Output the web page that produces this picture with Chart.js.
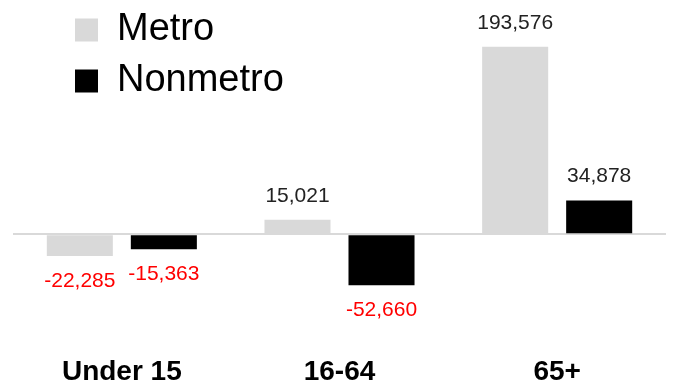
<!DOCTYPE html>
<html>
<head>
<meta charset="utf-8">
<script src="https://cdn.jsdelivr.net/npm/chart.js@4.4.1/dist/chart.umd.min.js"></script>
<style>
  html, body { margin: 0; padding: 0; background: #fff; }
  #wrap { width: 673px; height: 384px; }
</style>
</head>
<body>
<div id="wrap"><canvas id="age_chart"></canvas></div>
<script>
var categories = ["Under 15", "16-64", "65+"];
var metroValues = [-22285, 15021, 193576];
var nonmetroValues = [-15363, -52660, 34878];
var seriesNames = ["Metro", "Nonmetro"];

// value labels above / below each bar
var barLabels = {
  id: "barLabels",
  afterDatasetsDraw: function (chart) {
    var ctx = chart.ctx;
    ctx.save();
    ctx.font = "21px 'Liberation Sans', Arial, sans-serif";
    ctx.textAlign = "center";
    ctx.textBaseline = "middle";
    chart.data.datasets.forEach(function (ds, i) {
      chart.getDatasetMeta(i).data.forEach(function (bar, j) {
        var v = ds.data[j];
        var txt = v.toLocaleString("en-US");
        if (v >= 0) {
          ctx.fillStyle = "#222222";
          ctx.fillText(txt, bar.x, bar.y - 24);
        } else {
          ctx.fillStyle = "#ff0000";
          ctx.fillText(txt, bar.x, bar.y + 25);
        }
      });
    });
    ctx.restore();
  },
};

// move the legend (drawn inside the chart area) to the top-left spot
var legendSpot = {
  id: "legendSpot",
  afterLayout: function (chart) {
    var lg = chart.legend;
    if (!lg) return;
    var pad = lg.options.labels.padding;
    lg.left = 75 - pad;
    lg.top = 11 - pad;
  },
};

var ctx = document.getElementById("age_chart").getContext("2d");
var age_chart = new Chart(ctx, {
  type: "bar",
  data: {
    labels: categories,
    datasets: [
      {
        label: seriesNames[0],
        data: metroValues,
        backgroundColor: "#d9d9d9",
        borderWidth: 0,
      },
      {
        label: seriesNames[1],
        data: nonmetroValues,
        backgroundColor: "#000000",
        borderWidth: 0,
      },
    ],
  },
  options: {
    responsive: true,
    maintainAspectRatio: false,
    animation: false,
    categoryPercentage: 0.772,
    barPercentage: 0.786,
    layout: {
      padding: { left: 13, right: 7, top: 0, bottom: -6 },
    },
    scales: {
      x: {
        grid: { display: false, drawTicks: false },
        border: { display: false },
        ticks: {
          color: "#000000",
          padding: 4,
          font: {
            family: "'Liberation Sans', Arial, sans-serif",
            size: 28,
            weight: "bold",
            lineHeight: 1,
          },
        },
      },
      y: {
        min: -123550,
        max: 241975,
        border: { display: false },
        ticks: { display: false },
        grid: {
          drawTicks: false,
          lineWidth: 2,
          color: function (c) {
            return c.tick && c.tick.value === 0 ? "#d9d9d9" : "rgba(0,0,0,0)";
          },
        },
        afterBuildTicks: function (scale) {
          scale.ticks = [{ value: 0 }];
        },
      },
    },
    plugins: {
      legend: {
        position: "chartArea",
        align: "start",
        labels: {
          boxWidth: 23,
          boxHeight: 23,
          padding: 13,
          color: "#000000",
          font: {
            family: "'Liberation Sans', Arial, sans-serif",
            size: 38,
          },
        },
      },
      tooltip: { enabled: false },
      title: { display: false },
    },
  },
  plugins: [barLabels, legendSpot],
});
</script>
</body>
</html>
